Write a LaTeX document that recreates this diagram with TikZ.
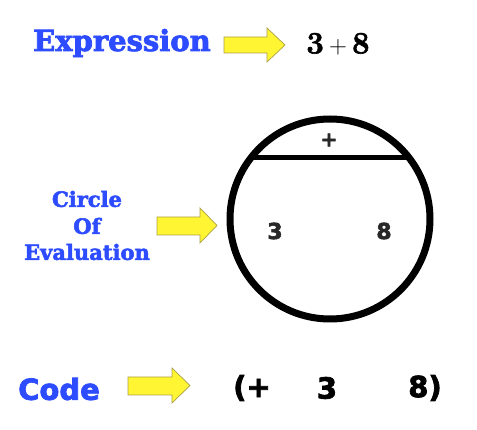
\documentclass[tikz,border=0pt]{standalone}
\usepackage{fontspec}
\newfontfamily\slabfont{DejaVu Serif}[FakeBold=2.5]
\newfontfamily\heavysans{DejaVu Sans}[FakeBold=2.5]
\newfontfamily\heavyserif{Latin Modern Roman}[FakeBold=2]
\definecolor{labelblue}{RGB}{45,75,255}
\definecolor{arrowyellow}{RGB}{255,245,50}
\definecolor{arrowedge}{RGB}{170,160,70}
\definecolor{circtext}{RGB}{40,40,40}
\begin{document}
\begin{tikzpicture}[x=1pt,y=-1pt,
  slablabel/.style={text=labelblue,inner sep=0pt,anchor=center},
  yarrowshape/.style={fill=arrowyellow,draw=arrowedge,line width=0.7pt,line join=miter},
  codetext/.style={font=\heavysans\bfseries\fontsize{29}{29}\selectfont,inner sep=0pt},
  circlabel/.style={font=\heavysans\bfseries\fontsize{22}{22}\selectfont,text=circtext,inner sep=0pt}]
\useasboundingbox[fill=white] (0,0) rectangle (477,430);

% Expression row
\node[slablabel,font=\slabfont\bfseries\fontsize{29}{29}\selectfont] (expr) at (122,43) {Expression};
\draw[yarrowshape] (224,37) -- (267,37) -- (267,28) -- (285,45) -- (267,62) -- (267,53) -- (224,53) -- cycle;
\node[inner sep=0pt] (exprval) at (338,44) {\fontsize{31}{31}\selectfont{\heavyserif\bfseries 3}\,$\mathbin{+}$\,{\heavyserif\bfseries 8}};

% Circle of evaluation
\node[slablabel,font=\slabfont\bfseries\fontsize{21}{21}\selectfont] (coe1) at (87,199) {Circle};
\node[slablabel,font=\slabfont\bfseries\fontsize{21}{21}\selectfont] (coe2) at (87,226) {Of};
\node[slablabel,font=\slabfont\bfseries\fontsize{21}{21}\selectfont] (coe3) at (87,252) {Evaluation};
\draw[yarrowshape] (157,217) -- (200,217) -- (200,208) -- (217,225.5) -- (200,243) -- (200,235) -- (157,235) -- cycle;

\node[circle,draw=black,line width=7pt,minimum size=200pt,inner sep=0pt] (coe) at (330,219) {};
\coordinate (chordL) at (253,158);
\coordinate (chordR) at (410,158);
\draw[line width=5pt] (chordL) -- (chordR);
\node[font=\heavysans\bfseries\fontsize{20}{20}\selectfont,text=circtext,inner sep=0pt] (op) at (329,140) {+};
\node[circlabel] (argA) at (275,231) {3};
\node[circlabel] (argB) at (384,231) {8};

% Code row
\node[text=labelblue,font=\heavysans\bfseries\fontsize{29}{29}\selectfont,inner sep=0pt] (code) at (59,389) {Code};
\draw[yarrowshape] (128,377) -- (172,377) -- (172,368) -- (190,385.5) -- (172,403) -- (172,395) -- (128,395) -- cycle;
\node[codetext] (c1) at (252,388) {(+};
\node[codetext] (c2) at (327,388) {3};
\node[codetext] (c3) at (425,388) {8)};
\end{tikzpicture}
\end{document}
